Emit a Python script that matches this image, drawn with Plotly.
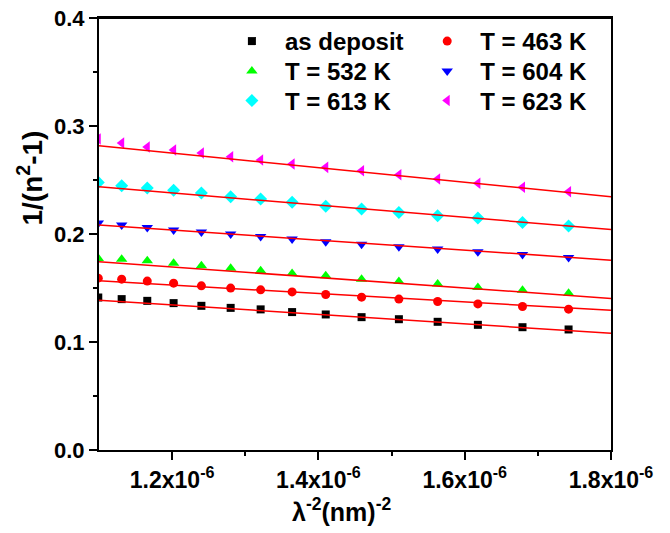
import plotly.graph_objects as go

# wavelength-derived x values (lambda^-2, nm^-2)
x_vals = [1.099e-6, 1.131e-6, 1.166e-6, 1.202e-6, 1.240e-6, 1.280e-6, 1.321e-6,
          1.364e-6, 1.410e-6, 1.459e-6, 1.510e-6, 1.563e-6, 1.618e-6, 1.679e-6, 1.742e-6]

series_names = ["as deposit", "T = 463 K", "T = 532 K", "T = 604 K", "T = 613 K", "T = 623 K"]

y_as_deposit = [0.1412, 0.1397, 0.1381, 0.1360, 0.1335, 0.1316, 0.1302, 0.1277,
                0.1255, 0.1230, 0.1211, 0.1187, 0.1159, 0.1137, 0.1116]
y_463 = [0.1591, 0.1582, 0.1564, 0.1545, 0.1520, 0.1499, 0.1483, 0.1464,
         0.1440, 0.1415, 0.1397, 0.1375, 0.1353, 0.1329, 0.1304]
y_532 = [0.1774, 0.1767, 0.1752, 0.1730, 0.1705, 0.1684, 0.1659, 0.1635,
         0.1613, 0.1582, 0.1561, 0.1536, 0.1505, 0.1480, 0.1452]
y_604 = [0.2101, 0.2083, 0.2061, 0.2036, 0.2018, 0.1999, 0.1978, 0.1953,
         0.1928, 0.1906, 0.1881, 0.1860, 0.1835, 0.1811, 0.1783]
y_613 = [0.2478, 0.2447, 0.2425, 0.2404, 0.2379, 0.2345, 0.2323, 0.2293,
         0.2256, 0.2231, 0.2200, 0.2169, 0.2147, 0.2107, 0.2073]
y_623 = [0.2880, 0.2842, 0.2805, 0.2778, 0.2750, 0.2715, 0.2685, 0.2648,
         0.2617, 0.2586, 0.2549, 0.2509, 0.2469, 0.2432, 0.2391]

# linear fit lines: values at x = 1.1e-6 and x = 1.8e-6
fit_x = [1.1e-6, 1.8e-6]
fit_left = [0.1387, 0.1566, 0.1743, 0.2083, 0.2437, 0.2817]
fit_right = [0.1080, 0.1293, 0.1403, 0.1758, 0.2042, 0.2344]

x_tickvals = [1.2e-6, 1.4e-6, 1.6e-6, 1.8e-6]
x_ticktext = ["1.2x10<sup>-6</sup>", "1.4x10<sup>-6</sup>", "1.6x10<sup>-6</sup>", "1.8x10<sup>-6</sup>"]
y_tickvals = [0.0, 0.1, 0.2, 0.3, 0.4]

all_y = [y_as_deposit, y_463, y_532, y_604, y_613, y_623]
colors = ["#000000", "#FF0000", "#00FF00", "#0000FF", "#00FFFF", "#FF00FF"]
symbols = ["square", "circle", "triangle-up", "triangle-down", "diamond", "triangle-left"]
sizes = [8, 9, 10, 10, 10, 10]

FONT = "Liberation Sans, Arial, sans-serif"

# page pixel -> paper coordinate helpers (page has an 8px body margin)
PL, PT, PW, PH = 99.0, 18.0, 512.0, 432.0
def xp(px):
    return (px - PL) / PW
def yp(py):
    return (PT + PH - py) / PH

# one legend per entry, laid out as 2 columns x 3 rows
legend_ids = ["legend", "legend2", "legend3", "legend4", "legend5", "legend6"]
col_x = [xp(218.9), xp(414.2)]
row_y = [yp(19.0), yp(49.0), yp(78.5)]

fig = go.Figure()
for i, (name, ys, c, s, sz, lg) in enumerate(zip(series_names, all_y, colors, symbols, sizes, legend_ids)):
    fig.add_trace(go.Scatter(x=x_vals, y=ys, mode="markers", name=name,
                             marker=dict(color=c, symbol=s, size=sz, line=dict(width=0)),
                             legend=lg))
for a, b in zip(fit_left, fit_right):
    fig.add_trace(go.Scatter(x=fit_x, y=[a, b], mode="lines", showlegend=False,
                             line=dict(color="#FF0000", width=1.5)))

legend_layout = {}
for i, lg in enumerate(legend_ids):
    legend_layout[lg] = dict(
        x=col_x[i % 2], y=row_y[i // 2], xanchor="left", yanchor="top",
        font=dict(family=FONT, size=24, color="black", weight="bold"),
        bgcolor="rgba(0,0,0,0)", borderwidth=0, itemwidth=56, orientation="v")

fig.update_layout(
    width=662, height=525,
    margin=dict(l=91, r=59, t=10, b=83, autoexpand=False),
    paper_bgcolor="white", plot_bgcolor="white",
    font=dict(family=FONT, size=22, color="black", weight="bold"),
    xaxis=dict(range=[1.1e-6, 1.8e-6], tickvals=x_tickvals, ticktext=x_ticktext,
               automargin=False, ticklabeloverflow="allow",
               showline=True, linecolor="black", linewidth=2, mirror=True,
               ticks="outside", ticklen=8, tickwidth=2, tickcolor="black",
               showgrid=False, zeroline=False,
               tickfont=dict(family=FONT, size=23, color="black", weight="bold"),
               minor=dict(tickvals=[1.3e-6, 1.5e-6, 1.7e-6], ticks="outside", ticklen=4,
                          tickwidth=2, tickcolor="black", showgrid=False)),
    yaxis=dict(range=[0, 0.4], tickvals=y_tickvals, tickformat=".1f",
               automargin=False, ticklabeloverflow="allow",
               showline=True, linecolor="black", linewidth=2, mirror=True,
               ticks="outside", ticklen=8, tickwidth=2, tickcolor="black",
               showgrid=False, zeroline=False,
               tickfont=dict(family=FONT, size=22, color="black", weight="bold"),
               minor=dict(tickvals=[0.05, 0.15, 0.25, 0.35], ticks="outside", ticklen=4,
                          tickwidth=2, tickcolor="black", showgrid=False)),
    shapes=[dict(type="line", xref="paper", yref="paper", x0=0, x1=1, y0=1, y1=1,
                 line=dict(color="black", width=2), layer="above")],
    annotations=[
        dict(text="1/(n<sup>2</sup>-1)", xref="paper", yref="paper",
             x=xp(30.5), y=yp(178), xanchor="center", yanchor="middle",
             textangle=-90, showarrow=False,
             font=dict(family=FONT, size=28, color="black", weight="bold")),
        dict(text="λ<sup>-2</sup>(nm)<sup>-2</sup>", xref="paper", yref="paper",
             x=xp(341.5), y=yp(510), xanchor="center", yanchor="middle",
             showarrow=False,
             font=dict(family=FONT, size=25, color="black", weight="bold")),
    ],
    **legend_layout,
)

fig.write_html("out.html")
